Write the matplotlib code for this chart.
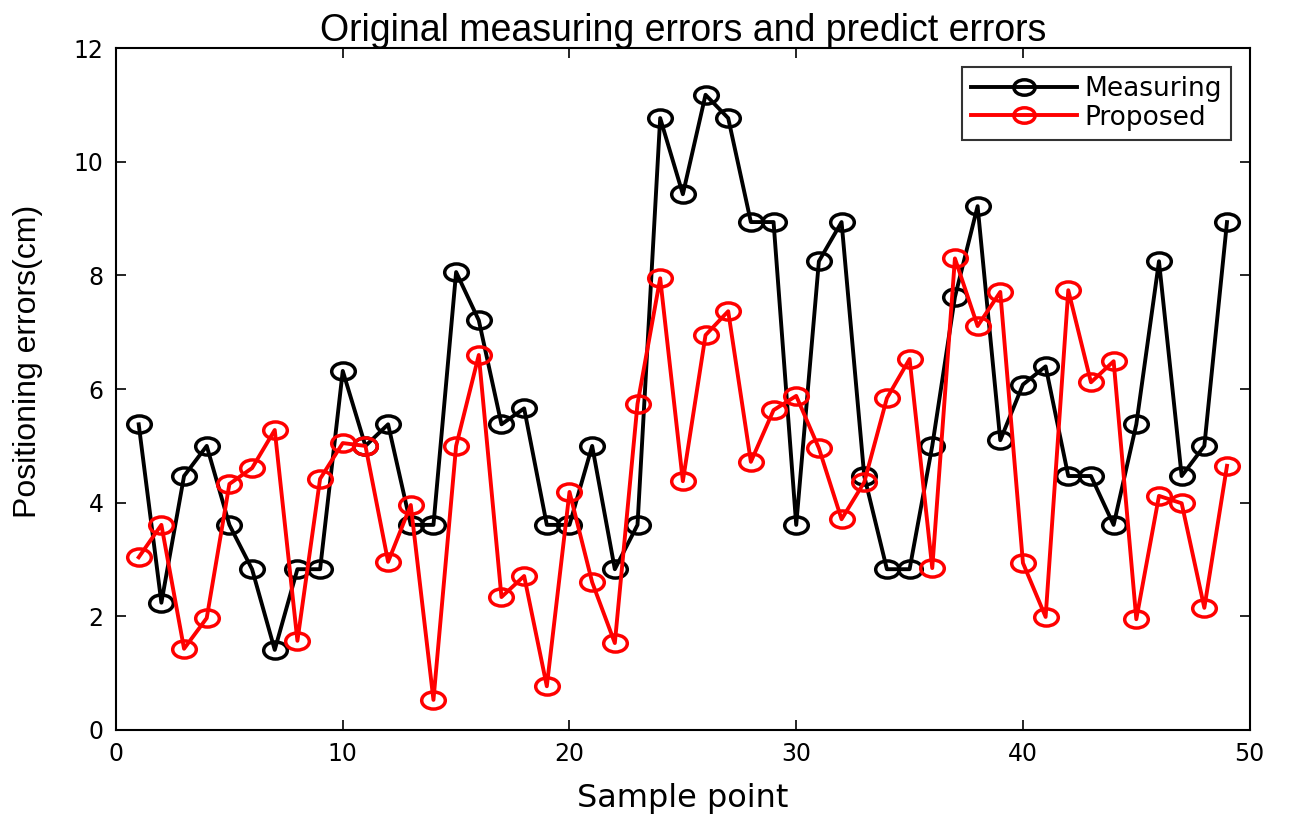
import numpy as np
import matplotlib
matplotlib.use('Agg')
import matplotlib.pyplot as plt
from matplotlib.path import Path
from matplotlib.transforms import Affine2D

# sample index
sample = list(range(1, 50))

# measuring errors (cm)
measuring = [5.38, 2.24, 4.47, 5.00, 3.61, 2.83, 1.41, 2.83, 2.83, 6.32,
             5.00, 5.38, 3.61, 3.61, 8.06, 7.21, 5.38, 5.66, 3.61, 3.61,
             5.00, 2.83, 3.61, 10.77, 9.43, 11.18, 10.77, 8.94, 8.94, 3.61,
             8.25, 8.94, 4.47, 2.83, 2.83, 5.00, 7.62, 9.22, 5.10, 6.08,
             6.40, 4.47, 4.47, 3.61, 5.38, 8.25, 4.47, 5.00, 8.94]

# proposed method errors (cm)
proposed = [3.04, 3.61, 1.43, 1.97, 4.33, 4.61, 5.28, 1.57, 4.42, 5.05,
            5.00, 2.96, 3.96, 0.53, 5.00, 6.60, 2.34, 2.71, 0.77, 4.19,
            2.60, 1.53, 5.74, 7.95, 4.38, 6.95, 7.37, 4.72, 5.63, 5.88,
            4.96, 3.71, 4.36, 5.84, 6.53, 2.85, 8.30, 7.11, 7.71, 2.94,
            1.99, 7.74, 6.12, 6.49, 1.95, 4.12, 3.99, 2.15, 4.65]

plt.rcParams['font.family'] = ['DejaVu Sans']

# slightly flattened circle, like the stretched original
ellipse = Path.unit_circle().transformed(Affine2D().scale(1.38, 1.0))

fig = plt.figure(figsize=(12.95, 8.17), dpi=100)
ax = fig.add_axes([0.0896, 0.1065, 0.8754, 0.8345])

ax.plot(sample, measuring, color='black', lw=2.8, marker=ellipse, ms=17,
        mfc='none', mec='black', mew=2.5, label='Measuring')
ax.plot(sample, proposed, color='red', lw=2.8, marker=ellipse, ms=17,
        mfc='none', mec='red', mew=2.5, label='Proposed')

ax.set_xlim(0, 50)
ax.set_ylim(0, 12)
ax.set_xticks([0, 10, 20, 30, 40, 50])
ax.set_yticks([0, 2, 4, 6, 8, 10, 12])
ax.tick_params(direction='in', top=True, right=True, length=7, width=1.2,
               labelsize=17, pad=9)
for s in ax.spines.values():
    s.set_linewidth(1.5)

ax.set_title('Original measuring errors and predict errors', fontsize=27,
             family='Liberation Sans', pad=5)
ax.set_xlabel('Sample point', fontsize=23, labelpad=12)
ax.set_ylabel('Positioning errors(cm)', fontsize=23, family='Liberation Sans')
ax.yaxis.set_label_coords(-0.064, 0.54)

leg = ax.legend(loc='upper right', fontsize=19, frameon=True, fancybox=False,
                edgecolor='black', handlelength=4.0, borderaxespad=0.7,
                labelspacing=0.1, handletextpad=0.3, borderpad=0.35,
                markerscale=0.9)
leg.get_frame().set_linewidth(1.5)

fig.savefig('out.png', dpi=100)
